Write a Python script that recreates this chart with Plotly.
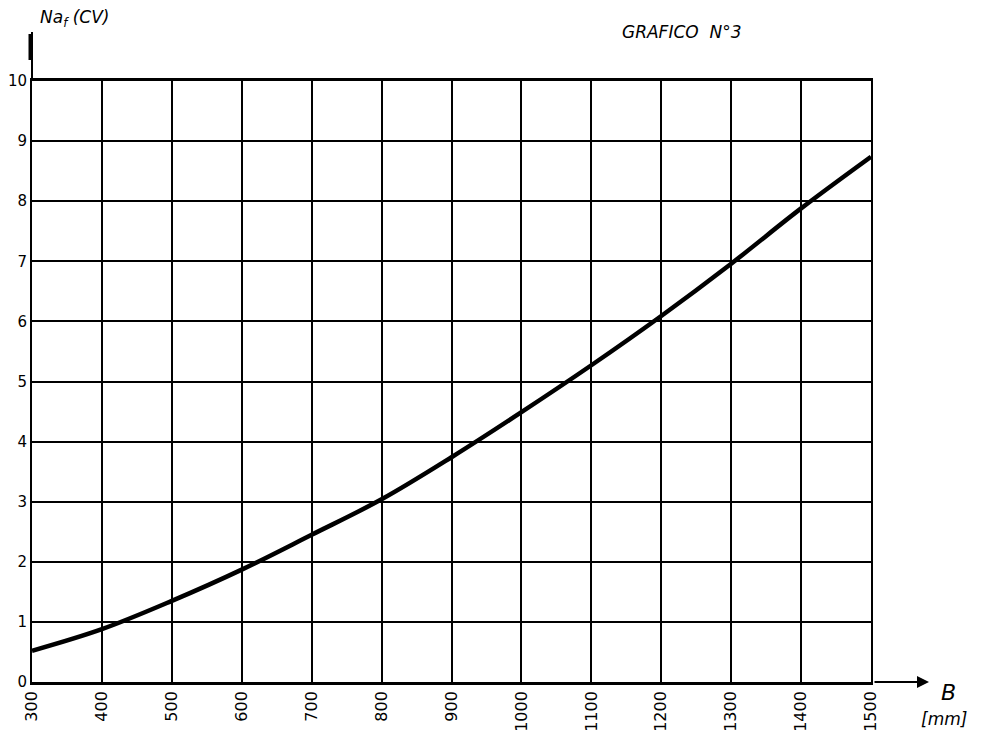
import plotly.graph_objects as go

# Data
B_mm = [300, 400, 500, 600, 700, 800, 900, 1000, 1100, 1200, 1300, 1400, 1500]
Na_cv = [0.52, 0.88, 1.35, 1.87, 2.45, 3.04, 3.74, 4.49, 5.27, 6.09, 6.96, 7.88, 8.74]
x_ticks = [300, 400, 500, 600, 700, 800, 900, 1000, 1100, 1200, 1300, 1400, 1500]
x_ticktext = [str(v) for v in x_ticks]
y_ticks = [0, 1, 2, 3, 4, 5, 6, 7, 8, 9, 10]
y_ticktext = [str(v) for v in y_ticks]

W, H = 992, 745
OX, OY = 7, 6  # page offset compensation
ML, MR, MT, MB = 31 - OX, 122 + OX, 79 - OY, 65 + OY
plot_w = W - ML - MR
plot_h = H - MT - MB

def px_x(px):
    return (px - OX - ML) / plot_w

def px_y(py):
    return (H - MB - (py - OY)) / plot_h

fig = go.Figure()
fig.add_trace(go.Scatter(
    x=B_mm, y=Na_cv, mode="lines",
    line=dict(color="black", width=4.5, shape="spline", smoothing=1.0),
    showlegend=False, hoverinfo="x+y",
))

font = dict(family="DejaVu Sans", color="black")

fig.update_layout(
    width=W, height=H,
    margin=dict(l=ML, r=MR, t=MT, b=MB, pad=0),
    paper_bgcolor="white", plot_bgcolor="white",
    showlegend=False,
    xaxis=dict(
        range=[300, 1500], tickvals=x_ticks, ticktext=x_ticktext,
        tickangle=-90, showgrid=True, gridcolor="black", gridwidth=1.5,
        showline=True, linecolor="black", linewidth=2.5, mirror=True,
        ticks="", zeroline=False, automargin=False,
        tickfont=dict(size=16, **font),
    ),
    yaxis=dict(
        range=[0, 10], tickvals=y_ticks, ticktext=y_ticktext,
        showgrid=True, gridcolor="black", gridwidth=1.5,
        showline=True, linecolor="black", linewidth=2, mirror=True,
        ticks="", zeroline=False, automargin=False,
        tickfont=dict(size=15, **font),
    ),
)

annotations = [
    dict(text="Na<sub>f</sub> (CV)", x=px_x(37), y=px_y(16), xref="paper", yref="paper",
         xanchor="left", yanchor="middle", showarrow=False,
         font=dict(size=17, family="DejaVu Sans", color="black", style="italic")),
    dict(text="GRAFICO  N°3", x=px_x(619), y=px_y(30), xref="paper", yref="paper",
         xanchor="left", yanchor="middle", showarrow=False,
         font=dict(size=17, family="DejaVu Sans", color="black", style="italic")),
    dict(text="B", x=px_x(938), y=px_y(690), xref="paper", yref="paper",
         xanchor="left", yanchor="middle", showarrow=False,
         font=dict(size=22, family="DejaVu Sans", color="black", style="italic")),
    dict(text="[mm]", x=px_x(918), y=px_y(717), xref="paper", yref="paper",
         xanchor="left", yanchor="middle", showarrow=False,
         font=dict(size=17, family="DejaVu Sans", color="black", style="italic")),
    dict(text="", x=px_x(928), y=0, xref="paper", yref="paper",
         ax=-56, ay=0, showarrow=True, arrowhead=2, arrowsize=1.2,
         arrowwidth=2, arrowcolor="black"),
]
fig.update_layout(annotations=annotations)

fig.add_shape(type="line", xref="paper", yref="paper",
              x0=0, x1=0, y0=1, y1=px_y(30), line=dict(color="black", width=2))
fig.add_shape(type="line", xref="paper", yref="paper",
              x0=px_x(29), x1=px_x(29), y0=px_y(58), y1=px_y(32), line=dict(color="black", width=3))
fig.add_shape(type="line", xref="paper", yref="paper",
              x0=px_x(986), x1=px_x(986), y0=px_y(8), y1=px_y(740), line=dict(color="black", width=4))

fig.write_html("out.html")
